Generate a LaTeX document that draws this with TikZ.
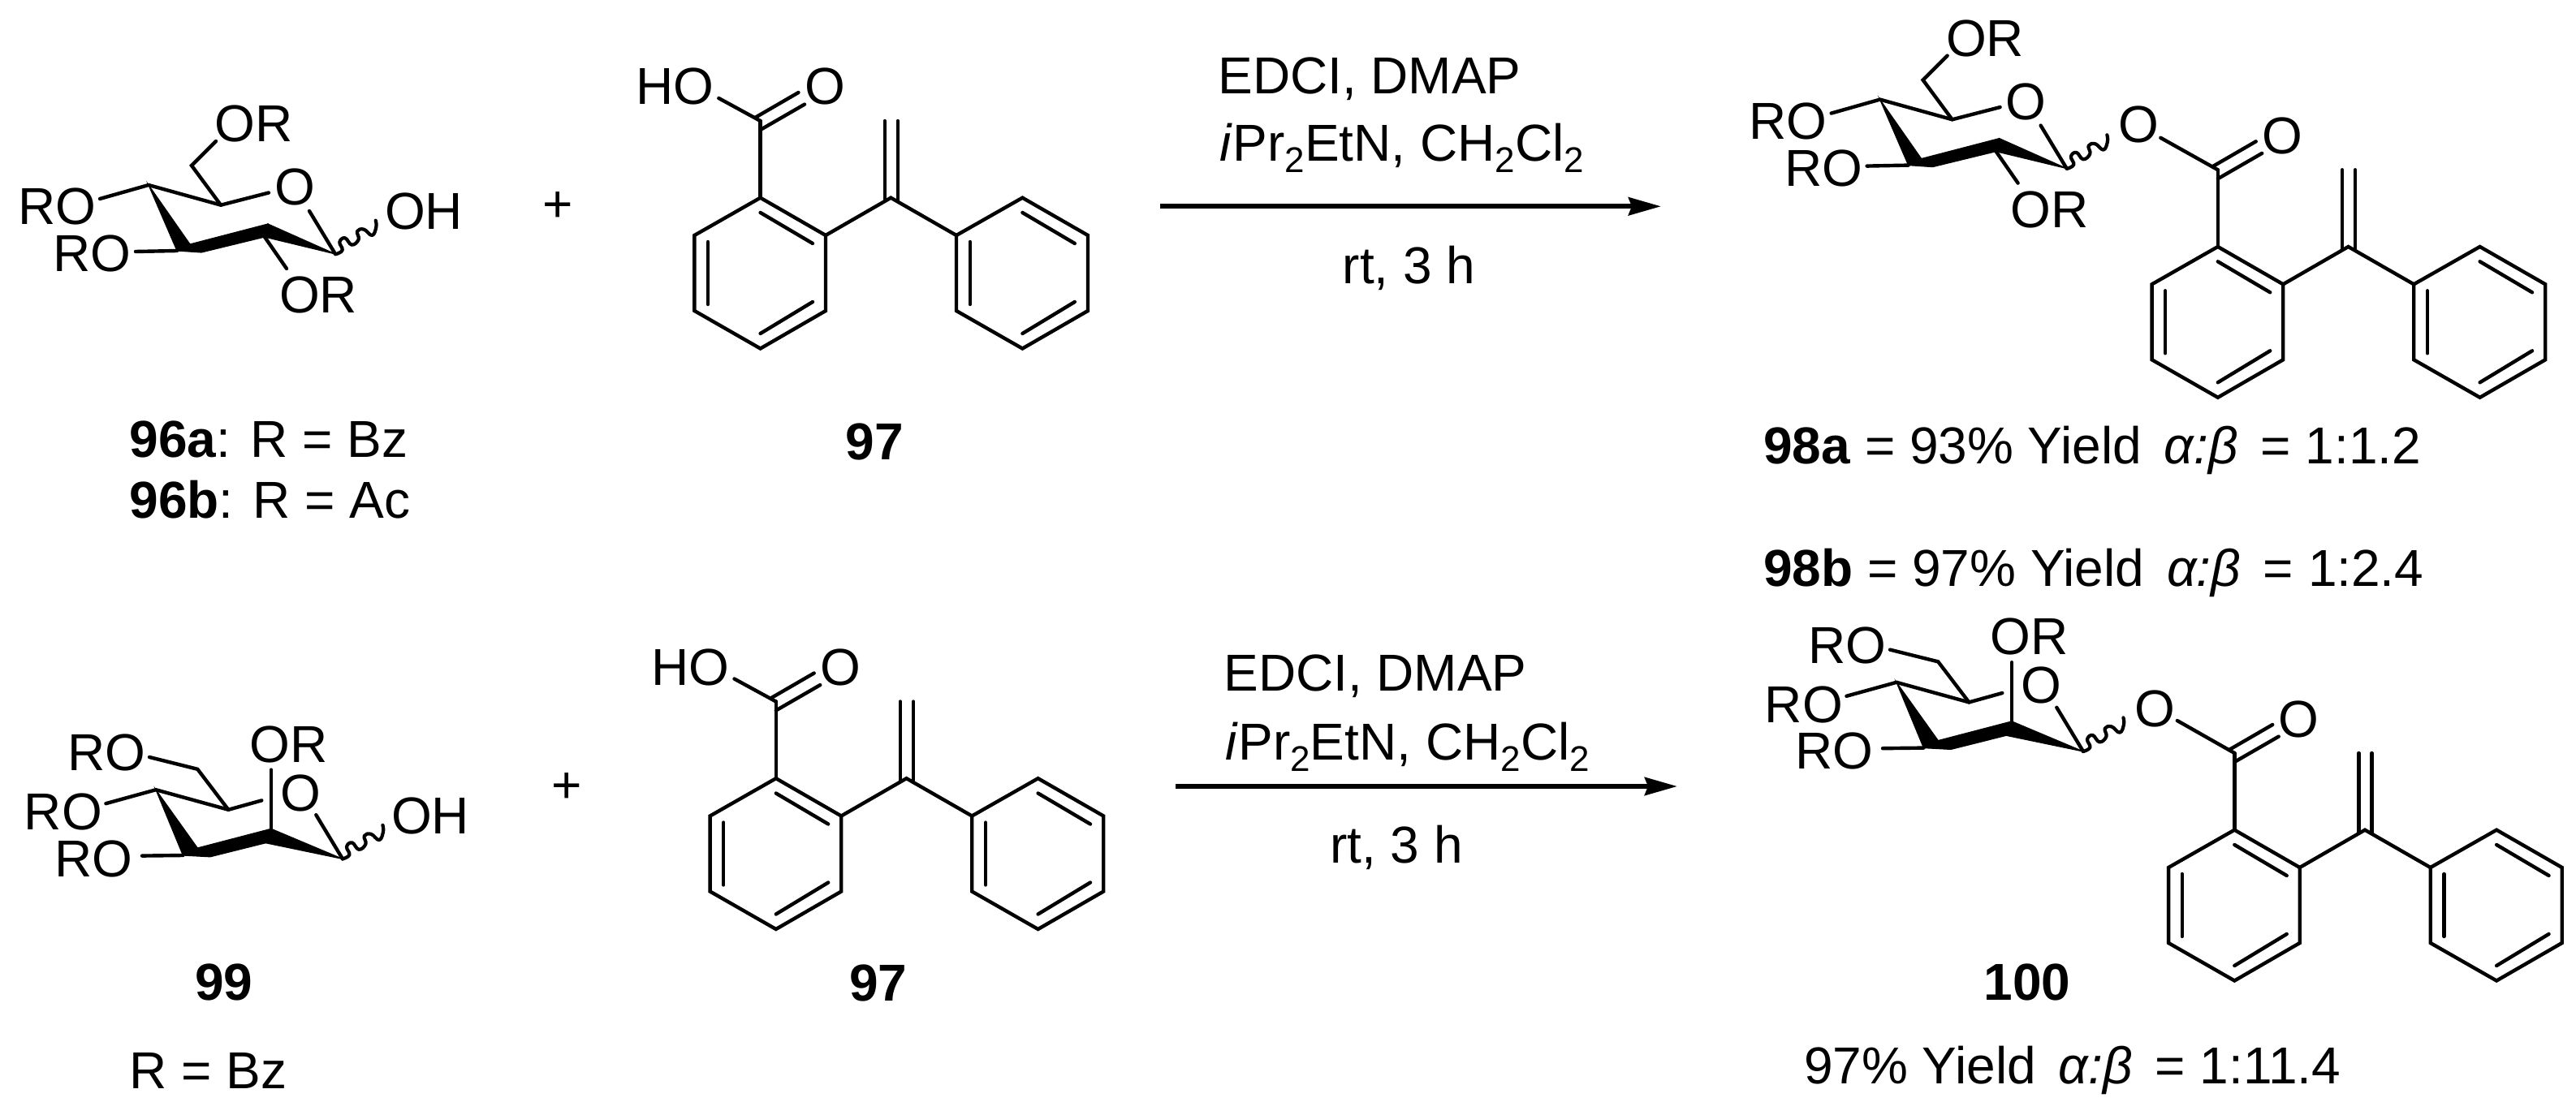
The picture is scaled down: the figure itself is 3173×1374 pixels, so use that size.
\documentclass[tikz,border=0pt]{standalone}
\usepackage{fontspec}
\setmainfont{Liberation Sans}
\usetikzlibrary{arrows.meta}
\newcommand{\chemsub}[1]{\raisebox{-7pt}{\fontsize{22}{22}\selectfont #1}}
\newcommand{\ygap}{\hspace{14pt}}
\newcommand{\wavebond}{\draw[wavyb] plot[smooth,tension=.75] coordinates {(413.3,313.3) (421.7,308.3) (418.3,298.3) (425,293.3) (433.3,301.7) (441.7,295) (440,285) (448.3,282.7) (458.3,290) (463.3,280) (462.7,271.7)};}
\tikzset{
  bond/.style={line width=2.2pt,line cap=round,line join=miter},
  wedge/.style={fill=black,draw=black,line width=.6pt,line join=miter},
  wavyb/.style={line width=2.1pt,line cap=round,line join=round},
  lab/.style={anchor=base,inner sep=0pt,outer sep=0pt,font=\fontsize{32}{38}\selectfont},
  labw/.style={lab,anchor=base west},
  rxn/.style={line width=3pt,-{Stealth[length=20pt,width=11pt,inset=2pt]}},
  gluco/.pic={
    \coordinate (-c4) at (183,228); \coordinate (-c5) at (272,252.7);
    \coordinate (-oe) at (331,237.5); \coordinate (-os) at (381,260);
    \coordinate (-c1) at (413,313); \coordinate (-c2u) at (330,276);
    \coordinate (-c2l) at (326,292); \coordinate (-c3u) at (234,301);
    \coordinate (-c3l) at (248,311); \coordinate (-c3w) at (218,309);
    \coordinate (-roa) at (123,245); \coordinate (-rob) at (167,310);
    \coordinate (-ch) at (236,204); \coordinate (-ora) at (266,174);
    \coordinate (-orb) at (353,331);
    \node[lab] (-lora) at (312.5,175) {OR};
    \node[lab] (-lroa) at (70,277) {RO};
    \node[lab] (-lrob) at (113.5,335) {RO};
    \node[lab] (-lo) at (363,252.6) {O};
    \node[lab] (-lorb) at (392,385.7) {OR};
    \fill[wedge] (-c4) -- (-c3u) -- (-c3w) -- cycle;
    \fill[wedge] (-c3w) -- (-c3u) -- (-c2u) -- (-c2l) -- (-c3l) -- cycle;
    \fill[wedge] (-c1) -- (-c2u) -- (-c2l) -- cycle;
    \draw[bond] (-roa) -- (-c4) -- (-c5) -- (-oe);
    \draw[bond] (-c5) -- (-ch) -- (-ora);
    \draw[bond] (-os) -- (-c1);
    \draw[bond] (-rob) -- (-c3w);
    \draw[bond] (-c2l) -- (-orb);
    \wavebond
  },
  manno/.pic={
    \coordinate (-c4) at (192,973.2); \coordinate (-c5) at (281.3,997.8);
    \coordinate (-oe) at (322.3,986.4); \coordinate (-os) at (389.3,1004.2);
    \coordinate (-c1) at (422,1058.4); \coordinate (-c2u) at (334,1021.3);
    \coordinate (-c2l) at (327.2,1038.7); \coordinate (-c3u) at (243.3,1045);
    \coordinate (-c3l) at (259,1055.8); \coordinate (-c3w) at (225.4,1054);
    \coordinate (-roa) at (130.4,990.2); \coordinate (-rob) at (175,1054.6);
    \coordinate (-ch) at (243.3,947.8); \coordinate (-roc) at (184,933);
    \coordinate (-ora) at (334,948.6);
    \node[lab] (-lroc) at (131,949.7) {RO};
    \node[lab] (-lroa) at (77.8,1022.4) {RO};
    \node[lab] (-lrob) at (115,1080) {RO};
    \node[lab] (-lora) at (355.8,939) {OR};
    \node[lab] (-lo) at (370,999) {O};
    \fill[wedge] (-c4) -- (-c3u) -- (-c3w) -- cycle;
    \fill[wedge] (-c3w) -- (-c3u) -- (-c2u) -- (-c2l) -- (-c3l) -- cycle;
    \fill[wedge] (-c1) -- (-c2u) -- (-c2l) -- cycle;
    \draw[bond] (-roa) -- (-c4) -- (-c5) -- (-oe);
    \draw[bond] (-c5) -- (-ch) -- (-roc);
    \draw[bond] (-os) -- (-c1);
    \draw[bond] (-rob) -- (-c3w);
    \draw[bond] (-c2u) -- (-ora);
    \begin{scope}[shift={(8.7,745.1)}]\wavebond\end{scope}
  },
  aryl/.pic={
    \coordinate (-a1) at (936.6,243.7); \coordinate (-a2) at (1017,290);
    \coordinate (-a3) at (1017,383); \coordinate (-a4) at (936.6,429.5);
    \coordinate (-a5) at (855.4,383); \coordinate (-a6) at (855.4,290);
    \coordinate (-v) at (1097.3,243.7);
    \coordinate (-b1) at (1259.4,243.7); \coordinate (-b2) at (1340,290);
    \coordinate (-b3) at (1340,383); \coordinate (-b4) at (1259.4,429.5);
    \coordinate (-b5) at (1178,383); \coordinate (-b6) at (1178,290);
    \coordinate (-cc) at (936.6,149);
    \node[lab] (-lo) at (1016,129) {O};
    \draw[bond] (-a1) -- (-a2) -- (-a3) -- (-a4) -- (-a5) -- (-a6) -- cycle;
    \draw[bond] (-b1) -- (-b2) -- (-b3) -- (-b4) -- (-b5) -- (-b6) -- cycle;
    \draw[bond] (-a2) -- (-v) -- (-b6);
    \draw[bond] (-a1) -- (-cc);
    \draw[bond] (930,145) -- (983.5,114);
    \draw[bond] (936.6,160) -- (991,128.6);
    \draw[bond] (1089.7,149) -- (1089.7,247);
    \draw[bond] (1105.8,149) -- (1105.8,247);
    \draw[bond] (936.6,262) -- (1001,300);
    \draw[bond] (872,298) -- (872,375);
    \draw[bond] (936.6,411) -- (1001,372);
    \draw[bond] (1259.4,262) -- (1323.8,300);
    \draw[bond] (1194.8,298) -- (1194.8,375);
    \draw[bond] (1259.4,411) -- (1323.8,372);
  },
}
\begin{document}
\begin{tikzpicture}[x=.5pt,y=-.5pt]
\useasboundingbox (0,0) rectangle (3173,1374);
% reaction 1
\pic (g1) at (0,0) {gluco};
\node[lab] (oh1) at (522,283) {OH};
\node[lab] (p1) at (687,274) {+};
\node[lab] (l96a) at (331,563) {\textbf{96a}: R = Bz};
\node[lab] (l96b) at (332.5,638.8) {\textbf{96b}: R = Ac};
\pic (a1) at (0,0) {aryl};
\node[lab] (ho1) at (831.5,129) {HO};
\coordinate (ho1e) at (885.3,121);
\draw[bond] (ho1e) -- (a1-cc);
\node[lab] (l97a) at (1077,566.5) {\textbf{97}};
\coordinate (r1s) at (1429,254.3); \coordinate (r1e) at (2046,254.3);
\draw[rxn] (r1s) -- (r1e);
\node[lab] (t1a) at (1687,115.7) {EDCI, DMAP};
\node[lab] (t1b) at (1727,199) {\textit{i}Pr\chemsub{2}EtN, CH\chemsub{2}Cl\chemsub{2}};
\node[lab] (t1c) at (1735.6,350) {rt, 3 h};
\pic (g2) at (2132.6,-105.4) {gluco};
\pic (a2) at (1795.2,60.3) {aryl};
\node[lab] (oe2) at (2633.9,175.5) {O};
\coordinate (oe2e) at (2661.3,169.8);
\draw[bond] (oe2e) -- (a2-cc);
\node[labw] (l98a) at (2172,571) {\textbf{98a} = 93\% Yield\ygap\textit{α:β}\ygap= 1:1.2};
\node[labw] (l98b) at (2172,722) {\textbf{98b} = 97\% Yield\ygap\textit{α:β}\ygap= 1:2.4};
% reaction 2
\pic (m1) at (0,0) {manno};
\node[lab] (oh2) at (530,1027) {OH};
\node[lab] (p2) at (698,989) {+};
\node[lab] (l99) at (276,1232.7) {\textbf{99}};
\node[lab] (lrbz) at (256.4,1341.7) {R = Bz};
\pic (a3) at (19.2,715.5) {aryl};
\node[lab] (ho3) at (850.7,844.5) {HO};
\coordinate (ho3e) at (904.5,836.5);
\draw[bond] (ho3e) -- (a3-cc);
\node[lab] (l97b) at (1081.7,1233) {\textbf{97}};
\coordinate (r2s) at (1448,969); \coordinate (r2e) at (2066,969);
\draw[rxn] (r2s) -- (r2e);
\node[lab] (t2a) at (1694,851.7) {EDCI, DMAP};
\node[lab] (t2b) at (1733.8,936.7) {\textit{i}Pr\chemsub{2}EtN, CH\chemsub{2}Cl\chemsub{2}};
\node[lab] (t2c) at (1719.8,1063) {rt, 3 h};
\pic (m2) at (2144,-132.4) {manno};
\pic (a4) at (1815.7,779) {aryl};
\node[lab] (oe4) at (2654.4,895.3) {O};
\coordinate (oe4e) at (2681.8,888);
\draw[bond] (oe4e) -- (a4-cc);
\node[lab] (l100) at (2497,1232) {\textbf{100}};
\node[labw] (l100y) at (2222,1335) {97\% Yield\ygap\textit{α:β}\ygap= 1:11.4};
\end{tikzpicture}
\end{document}
